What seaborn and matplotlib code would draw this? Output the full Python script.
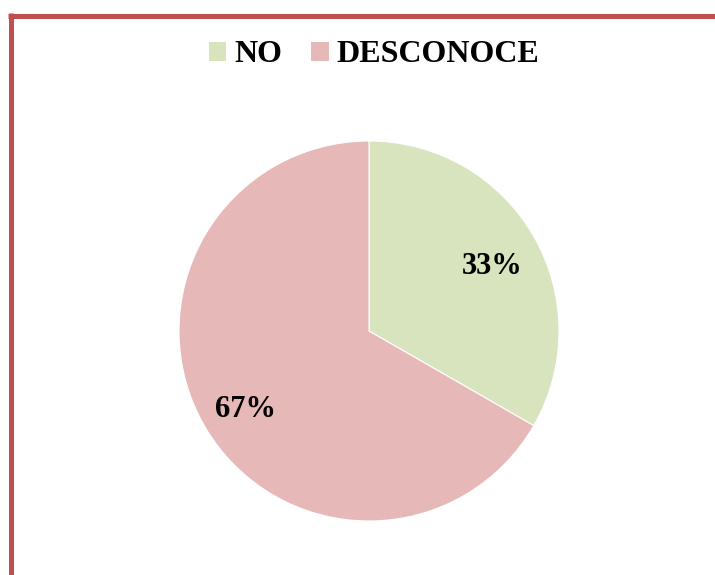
import matplotlib
matplotlib.use("Agg")
import matplotlib.pyplot as plt
from matplotlib.lines import Line2D
from matplotlib.patches import Patch
import seaborn as sns

categories = ["NO", "DESCONOCE"]
values = [33.3, 66.7]
colors = ["#D7E4BD", "#E6B9B8"]

sns.set_theme(style="white")
plt.rcParams["font.family"] = ["Liberation Serif", "DejaVu Serif"]
plt.rcParams["text.color"] = "black"

W, H = 715, 575
fig = plt.figure(figsize=(W / 100, H / 100), dpi=100)
fig.patch.set_facecolor("white")

# border (left and top lines)
fig.add_artist(Line2D([10.5 / W, 10.5 / W], [0, 1 - 13 / H], transform=fig.transFigure,
                      color="#C0504D", lw=3.6, solid_capstyle="butt"))
fig.add_artist(Line2D([8 / W, 1], [1 - 15.5 / H, 1 - 15.5 / H], transform=fig.transFigure,
                      color="#C0504D", lw=3.6, solid_capstyle="butt"))

cx, cy, r = 369, 331, 190
ax = fig.add_axes([(cx - r) / W, (H - cy - r) / H, 2 * r / W, 2 * r / H])
wedges, texts, autotexts = ax.pie(
    values, colors=colors, startangle=90, counterclock=False,
    autopct="%1.0f%%", pctdistance=0.75,
    wedgeprops=dict(edgecolor="white", linewidth=0.8),
    textprops=dict(fontsize=22, fontweight="bold", color="black"),
)
for t in autotexts:
    x, y = t.get_position()
    t.set_position((x, y - 7 / r))
ax.set_xlim(-1, 1)
ax.set_ylim(-1, 1)
ax.set_aspect("equal")
ax.axis("off")

handles = [Patch(facecolor=c, edgecolor="none") for c in colors]
leg = fig.legend(handles, categories, loc="center", bbox_to_anchor=(374 / W, 1 - 55 / H),
                 ncol=2, frameon=False, prop=dict(size=23, weight="bold"),
                 handlelength=0.55, handleheight=0.55, handletextpad=0.25,
                 columnspacing=0.9, borderaxespad=0, borderpad=0)
for t in leg.get_texts():
    t.set_color("black")

fig.savefig("out.png", dpi=100, facecolor="white")
